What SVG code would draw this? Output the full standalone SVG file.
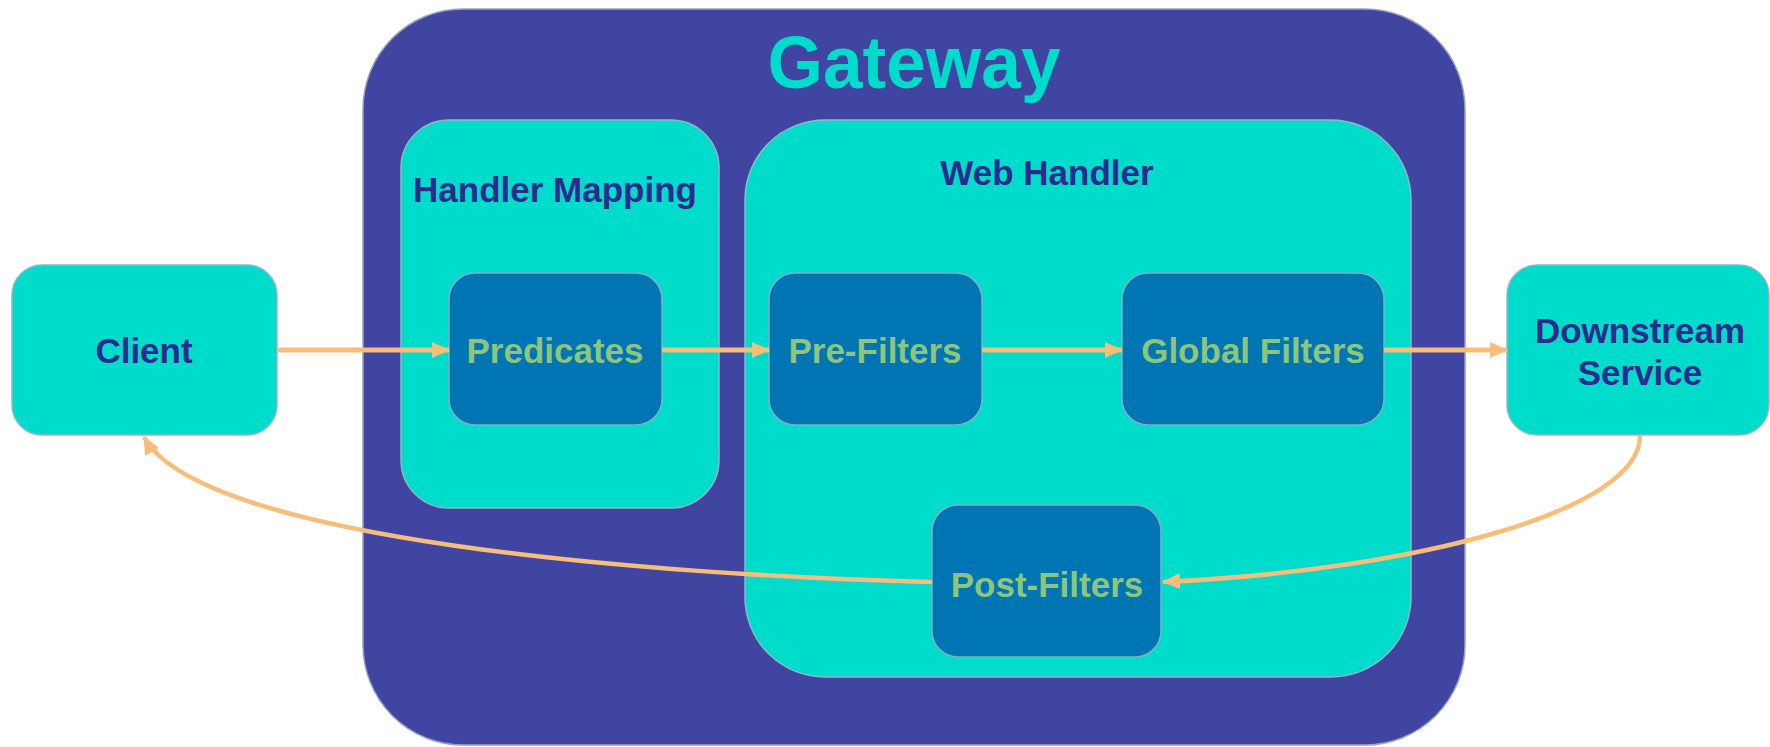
<svg xmlns="http://www.w3.org/2000/svg" width="1770" height="747" viewBox="0 0 1770 747">
<defs>
<style>
.outer{fill:#3F45A0;stroke:#9aa0c0;stroke-width:1.5}
.panel{fill:#00DCCB;stroke:#8fb8c8;stroke-width:1.5}
.inner{fill:#0075B4;stroke:#7fb0c8;stroke-width:1.5}
.navy{font-family:"Liberation Sans",Arial,sans-serif;font-weight:bold;font-size:35px;fill:#2D2A8E;text-anchor:middle}
.green{font-family:"Liberation Sans",Arial,sans-serif;font-weight:bold;font-size:35px;fill:#8DC57A;text-anchor:middle}
.title{font-family:"Liberation Sans",Arial,sans-serif;font-weight:bold;font-size:75px;fill:#00DCCB;text-anchor:middle}
.arr{fill:none;stroke:#F7BD7A;stroke-width:5}
.curve{fill:none;stroke:#F7BD7A;stroke-width:4.5}
</style>
<marker id="ah" markerUnits="userSpaceOnUse" markerWidth="18" markerHeight="16" refX="17" refY="8" orient="auto">
<path d="M0,0 L18,8 L0,16 z" fill="#F7BD7A"/>
</marker>
</defs>
<rect width="1770" height="747" fill="#ffffff"/>
<g id="gateway">
<rect class="outer" x="363" y="9" width="1102" height="736" rx="100" ry="100"/>
<text class="title" x="914" y="88" textLength="293" lengthAdjust="spacingAndGlyphs">Gateway</text>
</g>
<g id="handler-mapping">
<rect class="panel" x="401" y="120" width="318" height="388" rx="48" ry="48"/>
<text class="navy" x="555" y="202">Handler Mapping</text>
</g>
<g id="web-handler">
<rect class="panel" x="745" y="120" width="666" height="557" rx="80" ry="80"/>
<text class="navy" x="1047" y="185">Web Handler</text>
</g>
<g id="client">
<rect class="panel" x="12" y="265" width="265" height="170" rx="30" ry="30"/>
<text class="navy" x="144" y="363">Client</text>
</g>
<g id="downstream">
<rect class="panel" x="1507" y="265" width="262" height="170" rx="30" ry="30"/>
<text class="navy" x="1640" y="343">Downstream</text>
<text class="navy" x="1640" y="385">Service</text>
</g>
<g id="predicates">
<rect class="inner" x="449" y="273" width="213" height="152" rx="26" ry="26"/>
<text class="green" x="555" y="363">Predicates</text>
</g>
<g id="pre-filters">
<rect class="inner" x="769" y="273" width="213" height="152" rx="26" ry="26"/>
<text class="green" x="875" y="363">Pre-Filters</text>
</g>
<g id="global-filters">
<rect class="inner" x="1122" y="273" width="262" height="152" rx="26" ry="26"/>
<text class="green" x="1253" y="363">Global Filters</text>
</g>
<g id="post-filters">
<rect class="inner" x="932" y="505" width="229" height="152" rx="26" ry="26"/>
<text class="green" x="1047" y="597">Post-Filters</text>
</g>
<g id="connectors">
<line class="arr" x1="277" y1="350" x2="449" y2="350" marker-end="url(#ah)"/>
<line class="arr" x1="662" y1="350" x2="769" y2="350" marker-end="url(#ah)"/>
<line class="arr" x1="982" y1="350" x2="1122" y2="350" marker-end="url(#ah)"/>
<line class="arr" x1="1384" y1="350" x2="1507" y2="350" marker-end="url(#ah)"/>
<path class="curve" d="M1640,436 C1640,510 1420,570 1163,582" marker-end="url(#ah)"/>
<path class="curve" d="M932,582 C650,575 200,540 144,437" marker-end="url(#ah)"/>
</g>
</svg>
